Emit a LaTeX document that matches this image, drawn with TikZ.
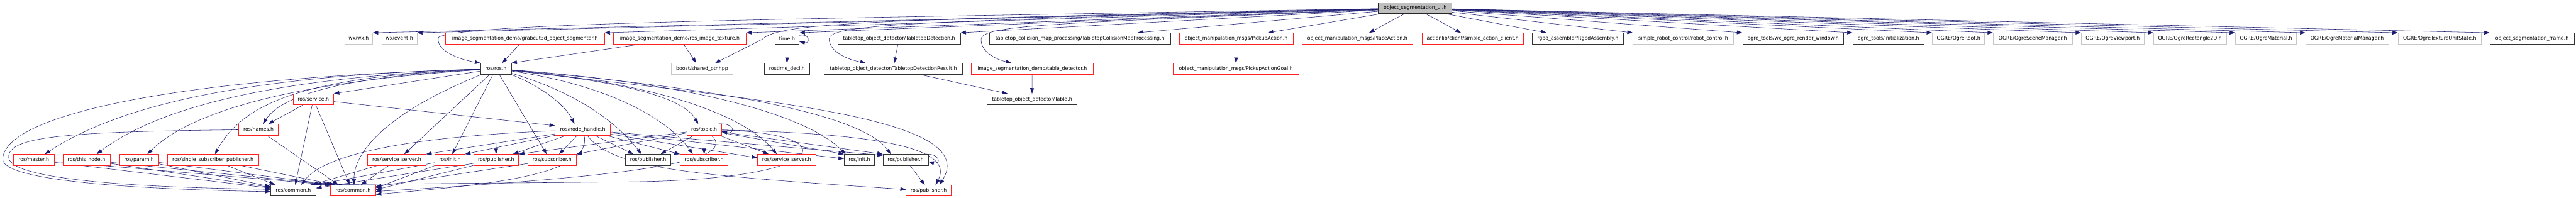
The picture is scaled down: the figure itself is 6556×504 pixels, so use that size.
\documentclass[tikz,border=0pt]{standalone}
\usepackage{fontspec}
\usepackage{tikz}
\usetikzlibrary{arrows.meta, backgrounds}
\newfontfamily\hdrface{DejaVu Sans}
\newcommand{\hdrfont}{\hdrface\fontsize{7.1}{8}\selectfont}
\definecolor{edgeblue}{RGB}{25,25,112}
\definecolor{hdrred}{RGB}{255,32,32}

\begin{document}
\begin{tikzpicture}[x=0.02cm, y=-0.02cm, >={Triangle[length=0.28cm, width=0.19cm]}]
    \tikzstyle{hdr} = [rectangle, draw, fill=white, line width=0.6pt, minimum height=0.56cm, inner xsep=1pt, inner ysep=0pt, font=\hdrfont]
    \tikzstyle{redhdr} = [hdr, draw=hdrred]
    \tikzstyle{blkhdr} = [hdr, draw=black!80]
    \tikzstyle{gryhdr} = [hdr, draw=black!22]
    \tikzstyle{roothdr} = [hdr, draw=black!85, fill=black!25]
    \tikzstyle{dep} = [->, draw=edgeblue, line width=0.5pt]

    \path[use as bounding box] (0,0) rectangle (6556,504);

    \node (root)     [roothdr, minimum width=3.74cm] at (3601.5,20.5) {object\_segmentation\_ui.h};

    % first row of includes
    \node (wxwx)     [gryhdr, minimum width=1.40cm] at (913,98)    {wx/wx.h};
    \node (wxevent)  [gryhdr, minimum width=1.78cm] at (1016.5,98) {wx/event.h};
    \node (grabcut)  [redhdr, minimum width=8.08cm] at (1336,98)   {image\_segmentation\_demo/grabcut3d\_object\_segmenter.h};
    \node (rostex)   [redhdr, minimum width=6.76cm] at (1730,98)   {image\_segmentation\_demo/ros\_image\_texture.h};
    \node (timeh)    [blkhdr, minimum width=1.24cm] at (2003,98)   {time.h};
    \node (tdet)     [blkhdr, minimum width=6.24cm] at (2288,98)   {tabletop\_object\_detector/TabletopDetection.h};
    \node (tcmp)     [blkhdr, minimum width=9.22cm] at (2748.5,98) {tabletop\_collision\_map\_processing/TabletopCollisionMapProcessing.h};
    \node (pickup)   [redhdr, minimum width=5.80cm] at (3146,98)   {object\_manipulation\_msgs/PickupAction.h};
    \node (place)    [redhdr, minimum width=5.66cm] at (3454.5,98) {object\_manipulation\_msgs/PlaceAction.h};
    \node (sac)      [redhdr, minimum width=5.16cm] at (3748,98)   {actionlib/client/simple\_action\_client.h};
    \node (rgbd)     [blkhdr, minimum width=4.66cm] at (4015.5,98) {rgbd\_assembler/RgbdAssembly.h};
    \node (src)      [gryhdr, minimum width=5.12cm] at (4284,98)   {simple\_robot\_control/robot\_control.h};
    \node (ogrewx)   [blkhdr, minimum width=5.14cm] at (4563.5,98) {ogre\_tools/wx\_ogre\_render\_window.h};
    \node (ogreinit) [blkhdr, minimum width=3.62cm] at (4806,98)   {ogre\_tools/initialization.h};
    \node (oroot)    [gryhdr, minimum width=2.66cm] at (4984.5,98) {OGRE/OgreRoot.h};
    \node (oscene)   [gryhdr, minimum width=4.02cm] at (5173.5,98) {OGRE/OgreSceneManager.h};
    \node (oview)    [gryhdr, minimum width=3.20cm] at (5377,98)   {OGRE/OgreViewport.h};
    \node (orect)    [gryhdr, minimum width=3.70cm] at (5573.5,98) {OGRE/OgreRectangle2D.h};
    \node (omat)     [gryhdr, minimum width=3.12cm] at (5767,98)   {OGRE/OgreMaterial.h};
    \node (omatman)  [gryhdr, minimum width=4.22cm] at (5973.5,98) {OGRE/OgreMaterialManager.h};
    \node (otex)     [gryhdr, minimum width=4.24cm] at (6209,98)   {OGRE/OgreTextureUnitState.h};
    \node (osframe)  [blkhdr, minimum width=4.28cm] at (6444,98)   {object\_segmentation\_frame.h};

    % second row
    \node (rosros)      [blkhdr, minimum width=1.56cm] at (1262,175)   {ros/ros.h};
    \node (boostsp)     [gryhdr, minimum width=3.16cm] at (1787,175)   {boost/shared\_ptr.hpp};
    \node (rostimedecl) [blkhdr, minimum width=2.32cm] at (2003,175)   {rostime\_decl.h};
    \node (tdetres)     [blkhdr, minimum width=7.02cm] at (2273.5,175) {tabletop\_object\_detector/TabletopDetectionResult.h};
    \node (tabledet)    [redhdr, minimum width=6.20cm] at (2627,175)   {image\_segmentation\_demo/table\_detector.h};
    \node (pickgoal)    [redhdr, minimum width=6.38cm] at (3145.5,175) {object\_manipulation\_msgs/PickupActionGoal.h};

    % third and fourth rows
    \node (service)    [redhdr, minimum width=2.06cm] at (797.5,253)  {ros/service.h};
    \node (tableh)     [blkhdr, minimum width=4.58cm] at (2626.5,253) {tabletop\_object\_detector/Table.h};
    \node (names)      [redhdr, minimum width=2.03cm] at (658,330)    {ros/names.h};
    \node (nodehandle) [redhdr, minimum width=2.80cm] at (1483,330)   {ros/node\_handle.h};
    \node (topic)      [redhdr, minimum width=1.76cm] at (1792,330)   {ros/topic.h};

    % fifth row
    \node (master)   [redhdr, minimum width=2.06cm] at (86,407)     {ros/master.h};
    \node (thisnode) [redhdr, minimum width=2.40cm] at (220,407)    {ros/this\_node.h};
    \node (param)    [redhdr, minimum width=2.00cm] at (354,407)    {ros/param.h};
    \node (ssp)      [redhdr, minimum width=4.64cm] at (542,407)    {ros/single\_subscriber\_publisher.h};
    \node (ssrv1)    [redhdr, minimum width=2.96cm] at (1010,407)   {ros/service\_server.h};
    \node (rinit)    [redhdr, minimum width=1.52cm] at (1145,407)   {ros/init.h};
    \node (rpub1)    [redhdr, minimum width=2.30cm] at (1262.5,407) {ros/publisher.h};
    \node (rsub1)    [redhdr, minimum width=2.46cm] at (1405,407)   {ros/subscriber.h};
    \node (bpub)     [blkhdr, minimum width=2.30cm] at (1649.5,407) {ros/publisher.h};
    \node (rsub2)    [redhdr, minimum width=2.44cm] at (1792,407)   {ros/subscriber.h};
    \node (ssrv2)    [redhdr, minimum width=2.96cm] at (2002,407)   {ros/service\_server.h};
    \node (binit)    [blkhdr, minimum width=1.54cm] at (2187,407)   {ros/init.h};
    \node (bpub2)    [blkhdr, minimum width=2.30cm] at (2305,407)   {ros/publisher.h};

    % bottom row
    \node (bcommon) [blkhdr, minimum width=2.30cm] at (746.5,485)  {ros/common.h};
    \node (rcommon) [redhdr, minimum width=2.30cm] at (898.5,485)  {ros/common.h};
    \node (rpub3)   [redhdr, minimum width=2.30cm] at (2363.5,485) {ros/publisher.h};

    \begin{scope}[on background layer]
    \fill [white] (0,0) rectangle (6556,504);

    % root includes
    \draw [dep] (root) -- (wxwx.north east);
    \draw [dep] (root) -- (wxevent.north east);
    \draw [dep] (root) -- (grabcut.north east);
    \draw [dep] (root) -- (rostex.north east);
    \draw [dep] (root) -- (timeh.north east);
    \draw [dep] (root) -- (tdet.north east);
    \draw [dep] (root) -- ([xshift=-1.7cm]tcmp.north east);
    \draw [dep] (root) -- ([xshift=-1.3cm]pickup.north east);
    \draw [dep] (root) -- ([xshift=0.6cm]place.north);
    \draw [dep] (root) -- ([xshift=-0.6cm]sac.north);
    \draw [dep] (root) -- ([xshift=0.75cm]rgbd.north west);
    \draw [dep] (root) -- (src.north west);
    \draw [dep] (root) -- (ogrewx.north west);
    \draw [dep] (root) -- (ogreinit.north west);
    \draw [dep] (root) -- (oroot.north west);
    \draw [dep] (root) -- (oscene.north west);
    \draw [dep] (root) -- (oview.north west);
    \draw [dep] (root) -- (orect.north west);
    \draw [dep] (root) -- (omat.north west);
    \draw [dep] (root) -- (omatman.north west);
    \draw [dep] (root) -- (otex.north west);
    \draw [dep] (root) -- (osframe.north west);
    \draw [dep] (root) .. controls (2000,48) and (1180,58) .. (1116,95) .. controls (1108,125) and (1160,150) .. (rosros.north west);
    \draw [dep] (root) .. controls (2200,50) and (1985,58) .. (1940,100) -- ([xshift=0.66cm]boostsp.north);
    \draw [dep] (root) .. controls (2300,55) and (2110,62) .. (2110,100) .. controls (2112,130) and (2150,150) .. ([xshift=-1.4cm]tdetres.north);
    \draw [dep] (root) .. controls (2700,60) and (2500,62) .. (2497,100) .. controls (2496,130) and (2530,150) .. ([xshift=-1.06cm]tabledet.north);

    % upper rows
    \draw [dep] (grabcut) -- ([xshift=0.32cm]rosros.north);
    \draw [dep] (rostex) -- (rosros.north east);
    \draw [dep] (rostex) -- ([xshift=-0.3cm]boostsp.north);
    \draw [dep] (timeh) -- (rostimedecl);
    \draw [dep] ([yshift=0.16cm]timeh.east) .. controls (2062,84) and (2062,112) .. ([yshift=-0.16cm]timeh.east);
    \draw [dep] (tdet) -- ([xshift=0.05cm]tdetres.north);
    \draw [dep] (tdetres) -- ([xshift=-1.24cm]tableh.north);
    \draw [dep] (tabledet) -- (tableh);
    \draw [dep] (pickup) -- (pickgoal);

    % ros/ros.h
    \draw [dep] (rosros) .. controls (700,190) and (330,250) .. ([xshift=0.56cm]master.north);
    \draw [dep] (rosros) .. controls (750,195) and (420,260) .. ([xshift=0.52cm]thisnode.north);
    \draw [dep] (rosros) .. controls (800,205) and (500,270) .. ([xshift=0.42cm]param.north);
    \draw [dep] (rosros) .. controls (780,195) and (620,260) .. ([xshift=0.1cm]ssp.north);
    \draw [dep] (rosros) -- (service.north east);
    \draw [dep] (rosros) .. controls (880,195) and (720,240) .. ([xshift=0.22cm]names.north);
    \draw [dep] (rosros) .. controls (1000,280) and (900,380) .. ([xshift=0.05cm]rcommon.north);
    \draw [dep] (rosros) -- ([xshift=0.38cm]ssrv1.north);
    \draw [dep] (rosros) -- ([xshift=0.12cm]rinit.north);
    \draw [dep] (rosros) -- (rpub1);
    \draw [dep] (rosros) -- ([xshift=-0.28cm]rsub1.north);
    \draw [dep] (rosros) .. controls (1380,220) and (1440,270) .. ([xshift=-0.42cm]nodehandle.north);
    \draw [dep] (rosros) .. controls (1600,210) and (1740,250) .. ([xshift=-0.3cm]topic.north);
    \draw [dep] (rosros) .. controls (1450,230) and (1560,300) .. ([xshift=-0.34cm]bpub.north);
    \draw [dep] (rosros) .. controls (1600,225) and (1720,330) .. ([xshift=-0.58cm]rsub2.north);
    \draw [dep] (rosros) .. controls (1700,215) and (1900,300) .. ([xshift=-0.5cm]ssrv2.north);
    \draw [dep] (rosros) .. controls (1800,215) and (2060,300) .. ([xshift=-0.7cm]binit.north);
    \draw [dep] (rosros) .. controls (1900,230) and (2200,300) .. ([xshift=-0.76cm]bpub2.north);
    \draw [dep] (rosros) .. controls (1950,255) and (2500,300) .. ([xshift=0.55cm]rpub3.north);
    \draw [dep] (rosros) .. controls (400,200) and (10,300) .. (7,405) .. controls (5,465) and (400,483) .. ([yshift=-0.06cm]bcommon.west);

    % ros/service.h and ros/names.h
    \draw [dep] (service) -- ([xshift=0.5cm]names.north);
    \draw [dep] (service) -- ([xshift=0.1cm]bcommon.north);
    \draw [dep] (service) -- ([xshift=-0.17cm]rcommon.north);
    \draw [dep] (service) -- ([yshift=0.2cm]nodehandle.west);
    \draw [dep] (names) -- ([xshift=-0.75cm]rcommon.north);
    \draw [dep] (names) .. controls (150,335) and (22,350) .. (22,400) .. controls (22,462) and (400,478) .. ([yshift=0.06cm]bcommon.west);

    % ros/node_handle.h
    \draw [dep] (nodehandle) -- (ssrv1.north east);
    \draw [dep] (nodehandle) -- (rinit.north east);
    \draw [dep] (nodehandle) -- ([xshift=-0.3cm]rpub1.north east);
    \draw [dep] (nodehandle) -- ([xshift=0.36cm]rsub1.north);
    \draw [dep] (nodehandle) -- ([xshift=-0.75cm]bpub.north);
    \draw [dep] (nodehandle) -- (rsub2.north west);
    \draw [dep] (nodehandle) -- ([yshift=0.1cm]ssrv2.west);
    \draw [dep] (nodehandle) -- ([yshift=0.06cm]binit.west);
    \draw [dep] (nodehandle) -- ([yshift=-0.06cm]bpub2.north west);
    \draw [dep] (nodehandle) .. controls (1000,350) and (820,400) .. ([xshift=0.4cm]bcommon.north);
    \draw [dep] (nodehandle) .. controls (1510,445) and (1250,470) .. ([yshift=-0.2cm]rcommon.east);
    \draw [dep] (nodehandle) .. controls (1560,430) and (1750,445) .. ([yshift=0.05cm]rpub3.west);

    % ros/topic.h
    \draw [dep] ([xshift=-0.2cm]topic.north east) .. controls (1872,312) and (1872,342) .. ([yshift=-0.1cm]topic.east);
    \draw [dep] (topic) -- (rpub1.north east);
    \draw [dep] (topic) -- (rsub1.north east);
    \draw [dep] (topic) -- ([xshift=0.64cm]bpub.north);
    \draw [dep] (topic) -- (rsub2);
    \draw [dep] (topic) -- ([xshift=-0.92cm]ssrv2.north);
    \draw [dep] (topic) -- (binit.north west);
    \draw [dep] (topic) -- (bpub2.north west);
    \draw [dep] (topic) .. controls (2250,340) and (2430,380) .. ([xshift=0.35cm]rpub3.north);
    \draw [dep] (topic) .. controls (1900,420) and (1500,455) .. ([yshift=-0.05cm]rcommon.east);
    \draw [dep] (topic) .. controls (2160,340) and (2120,458) .. (1600,463) -- ([xshift=-0.3cm]bcommon.north east);

    % ros/publisher.h
    \draw [dep] ([xshift=-0.2cm]bpub2.north east) .. controls (2395,390) and (2395,420) .. ([yshift=-0.1cm]bpub2.east);
    \draw [dep] (bpub2) -- ([xshift=-0.2cm]rpub3.north);

    % fifth row to ros/common.h
    \draw [dep] (master) -- ([yshift=0.12cm]bcommon.west);
    \draw [dep] (master) -- (rcommon.north west);
    \draw [dep] (thisnode) -- ([yshift=0.16cm]bcommon.west);
    \draw [dep] (thisnode) -- ([xshift=0.1cm]rcommon.north west);
    \draw [dep] (param) -- ([yshift=0.2cm]bcommon.west);
    \draw [dep] (param) -- ([xshift=0.16cm]rcommon.north west);
    \draw [dep] (ssp) -- ([xshift=-0.93cm]bcommon.north);
    \draw [dep] (ssp) -- ([xshift=0.24cm]rcommon.north west);
    \draw [dep] (ssrv1) -- ([xshift=-0.2cm]bcommon.north east);
    \draw [dep] (ssrv1) -- ([xshift=0.4cm]rcommon.north);
    \draw [dep] (rinit) -- (bcommon.north east);
    \draw [dep] (rinit) -- ([yshift=0.12cm]rcommon.east);
    \draw [dep] (rpub1) -- ([yshift=0.12cm]bcommon.east);
    \draw [dep] (rpub1) -- ([yshift=0.04cm]rcommon.east);
    \draw [dep] (rsub1) -- ([yshift=0.2cm]rcommon.east);
    \end{scope}
\end{tikzpicture}
\end{document}
